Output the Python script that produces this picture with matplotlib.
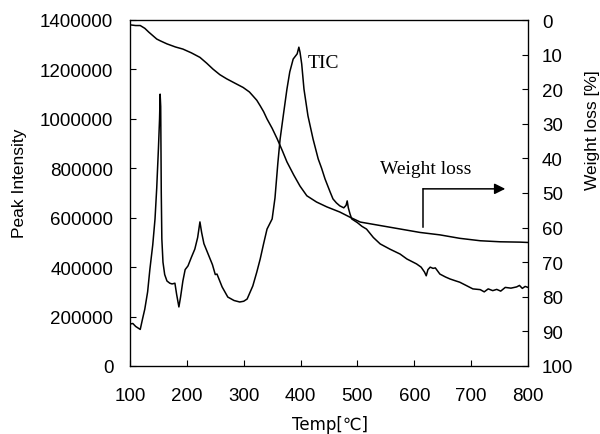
import matplotlib
matplotlib.use("Agg")
import matplotlib.pyplot as plt

# TIC data (temperature in degC, peak intensity)
tic_temp = [100, 105, 110, 118, 122, 126, 131, 135, 140, 144, 147, 150, 152, 153, 154, 155, 156, 158,
            161, 165, 170, 174, 179, 182, 186, 189, 193, 197, 202, 208, 214, 219, 223, 226, 230, 236,
            245, 250, 253, 262, 272, 283, 293, 300, 306, 316, 323, 329, 335, 341, 350, 355, 360, 364,
            370, 376, 381, 387, 394, 397, 399, 402, 406, 413, 422, 431, 437, 443, 452, 457, 463, 469,
            476, 480, 482, 484, 487, 490, 500, 508, 516, 528, 540, 557, 575, 587, 604, 612, 618, 621,
            624, 628, 633, 637, 645, 655, 663, 672, 680, 692, 703, 716, 723, 730, 738, 745, 752, 760,
            770, 780, 785, 790, 795, 800]
tic_val = [170000, 172000, 160000, 148000, 190000, 230000, 300000, 392000, 490000, 595000, 720000,
           880000, 1000000, 1100000, 1050000, 700000, 514000, 420000, 370000, 344000, 335000, 332000,
           335000, 290000, 239000, 280000, 344000, 390000, 405000, 440000, 473000, 520000, 583000,
           540000, 495000, 461000, 410000, 370000, 372000, 320000, 279000, 265000, 259000, 262000,
           271000, 324000, 380000, 433000, 495000, 554000, 595000, 680000, 820000, 918000, 1020000,
           1120000, 1190000, 1242000, 1263000, 1290000, 1270000, 1222000, 1120000, 1012000, 918000,
           838000, 800000, 757000, 704000, 676000, 660000, 648000, 640000, 650000, 668000, 640000,
           615000, 595000, 580000, 565000, 554000, 520000, 494000, 473000, 453000, 433000, 413000,
           400000, 380000, 365000, 390000, 400000, 395000, 397000, 372000, 360000, 352000, 345000,
           339000, 325000, 312000, 309000, 300000, 312000, 305000, 310000, 303000, 318000, 315000,
           320000, 326000, 314000, 322000, 318000]

# Weight loss data (temperature in degC, weight loss %)
wl_temp = [100, 110, 118, 126, 133, 140, 147, 153, 165, 180, 193, 208, 223, 235, 246, 258, 270, 285,
           299, 310, 316, 323, 329, 335, 341, 350, 359, 368, 376, 388, 399, 411, 428, 446, 469, 487,
           505, 540, 575, 610, 645, 680, 716, 751, 786, 800]
wl_val = [1.4, 1.6, 1.6, 2.4, 3.5, 4.5, 5.5, 6.0, 6.9, 7.8, 8.4, 9.5, 10.8, 12.5, 14.2, 15.8, 17.0,
          18.3, 19.5, 20.8, 21.9, 23.2, 24.8, 26.5, 28.6, 31.3, 34.4, 37.8, 41.0, 44.8, 48.0, 50.8,
          52.6, 54.0, 55.5, 57.0, 58.4, 59.4, 60.4, 61.4, 62.1, 63.1, 63.8, 64.1, 64.2, 64.3]

x_ticks = [100, 200, 300, 400, 500, 600, 700, 800]
left_ticks = [0, 200000, 400000, 600000, 800000, 1000000, 1200000, 1400000]
right_ticks = [0, 10, 20, 30, 40, 50, 60, 70, 80, 90, 100]

sans = ['Liberation Sans', 'DejaVu Sans']
serif = ['Liberation Serif', 'DejaVu Serif']

fig = plt.figure(figsize=(6, 4.35), dpi=100)
ax = fig.add_axes([130 / 600, 1 - 367 / 435, 398 / 600, 346 / 435])
ax.plot(tic_temp, tic_val, color='black', lw=1.1)
ax.set_xlim(100, 800)
ax.set_ylim(0, 1400000)
ax.set_xticks(x_ticks)
ax.set_yticks(left_ticks)
ax.set_xticklabels([str(t) for t in x_ticks], fontfamily=sans, fontsize=13.5)
ax.set_yticklabels([str(t) for t in left_ticks], fontfamily=sans, fontsize=13.5)
ax.tick_params(axis='both', direction='in', length=4, width=0.8)
ax.tick_params(axis='x', pad=15)
ax.tick_params(axis='y', pad=12)
for s in ax.spines.values():
    s.set_linewidth(0.9)

ax2 = ax.twinx()
ax2.plot(wl_temp, wl_val, color='black', lw=1.1)
ax2.set_ylim(100, 0)
ax2.set_yticks(right_ticks)
ax2.set_yticklabels([str(t) for t in right_ticks], fontfamily=sans, fontsize=13.5)
ax2.tick_params(axis='y', direction='in', length=4, width=0.8, pad=10)

fig.text(20 / 600, 1 - 183 / 435, 'Peak Intensity', rotation=90, ha='center', va='center',
         fontfamily=sans, fontsize=12.5)
fig.text(330 / 600, 1 - 425 / 435, 'Temp[℃]', ha='center', va='center',
         fontfamily=['DejaVu Sans'], fontsize=12)
fig.text(592 / 600, 1 - 130 / 435, 'Weight loss [%]', rotation=90, ha='center', va='center',
         fontfamily=sans, fontsize=12.5)

ax.text(413, 1230000, 'TIC', fontfamily=serif, fontsize=14, ha='left', va='center')
ax2.text(540, 45.5, 'Weight loss', fontfamily=serif, fontsize=14, ha='left', va='bottom')
ax2.plot([616, 616], [59.8, 48.8], color='black', lw=1.1)
ax2.annotate('', xy=(760, 48.8), xytext=(615.5, 48.8),
             arrowprops=dict(arrowstyle='-|>', color='black', lw=1.1, mutation_scale=16,
                             shrinkA=0, shrinkB=0))

fig.savefig('out.png', dpi=100)
